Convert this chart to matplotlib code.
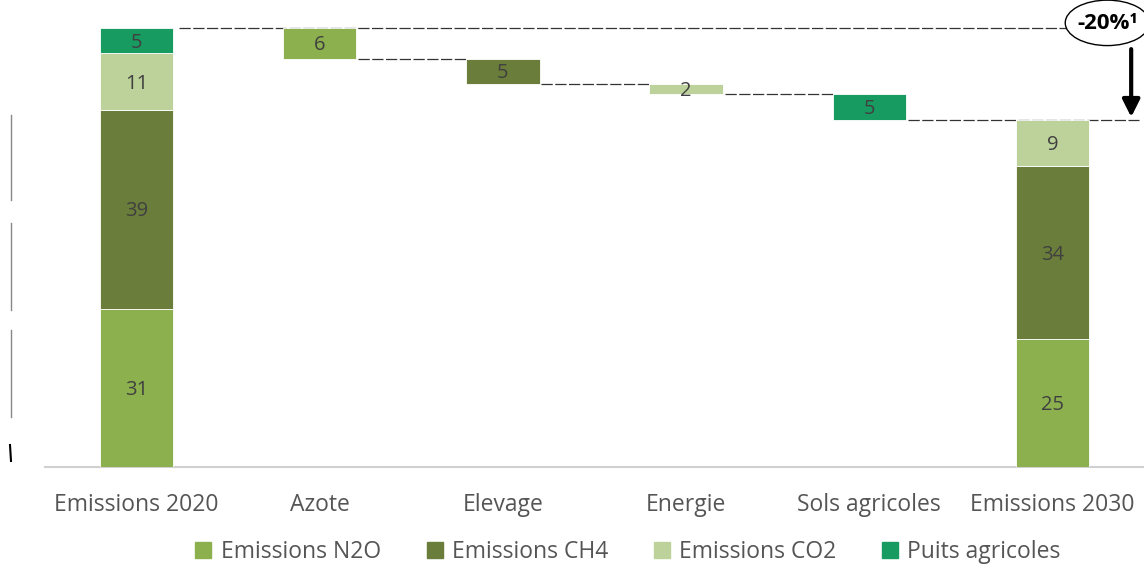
import numpy as np
import matplotlib.pyplot as plt
from matplotlib.patches import Ellipse
from matplotlib.lines import Line2D

plt.rcParams['font.family'] = ['Open Sans', 'DejaVu Sans']

categories = ['Emissions 2020', 'Azote', 'Elevage', 'Energie', 'Sols agricoles', 'Emissions 2030']
series = ['Emissions N2O', 'Emissions CH4', 'Emissions CO2', 'Puits agricoles']
colors = ['#8cb04e', '#6a7d3a', '#bdd29a', '#179b60']

stack_2020 = [31, 39, 11, 5]   # N2O, CH4, CO2, puits
stack_2030 = [25, 34, 9, 0]
reductions = [6, 5, 2, 5]      # Azote, Elevage, Energie, Sols agricoles
reduction_series = [0, 1, 2, 3]
reduction_label = '-20%¹'

W = 0.4
fig = plt.figure(figsize=(11.44, 5.66), dpi=100)
ax = fig.add_axes([45/1144, 99/566, 1099/1144, 467/566])

def stacked(x, vals):
    bottom = 0
    for k, v in enumerate(vals):
        if v == 0:
            continue
        ax.bar(x, v, W, bottom=bottom, color=colors[k], edgecolor='white', lw=0.6, zorder=3)
        ax.text(x, bottom + v/2 - 0.4, str(v), ha='center', va='center', fontsize=14.5, color='#404040', zorder=4)
        bottom += v
    return bottom

top = stacked(0, stack_2020)
level = top
dash = dict(color='#333333', lw=0.9, ls=(0, (9, 2)), zorder=2)
ax.plot([0.23, 5.22], [level, level], **dash)
for i, (r, s) in enumerate(zip(reductions, reduction_series)):
    x = i + 1
    ax.bar(x, r, W, bottom=level - r, color=colors[s], edgecolor='white', lw=0.6, zorder=3)
    ax.text(x, level - r/2 - 0.3, str(r), ha='center', va='center', fontsize=14.5, color='#404040', zorder=4)
    level -= r
    end = x + 0.8 if i < len(reductions) - 1 else 5.47
    ax.plot([x + 0.21, end], [level, level], **dash)
stacked(5, stack_2030)

# annotation
ax.add_patch(Ellipse((5.30, 87.0), 0.46, 8.9, facecolor='white', edgecolor='black', lw=1, zorder=5, clip_on=False))
ax.text(5.30, 86.8, reduction_label, ha='center', va='center', fontsize=16, fontweight='bold', color='black', zorder=6)
ax.annotate('', xy=(5.43, level), xytext=(5.43, 82.4),
            arrowprops=dict(arrowstyle='-|>', color='black', lw=3, mutation_scale=26), zorder=6)

ax.set_xlim(-0.5, 5.5)
ax.set_ylim(0, 467/5.105)
ax.set_xticks(range(len(categories)))
ax.set_xticklabels(categories, fontsize=16.5, color='#555555')
ax.tick_params(axis='x', length=0, pad=19)
ax.set_yticks([])
for sp in ['top', 'right', 'left']:
    ax.spines[sp].set_visible(False)
ax.spines['bottom'].set_color('#d0d0d0')
ax.spines['bottom'].set_linewidth(1.5)

handles = [plt.Rectangle((0, 0), 1, 1, color=c) for c in colors]
fig.legend(handles, series, loc='center', bbox_to_anchor=(628/1144, 1 - 552/566), ncol=4,
           frameon=False, fontsize=16.5, handlelength=0.7, handleheight=0.7,
           handletextpad=0.4, columnspacing=2.0, labelcolor='#555555')

# stray axis fragments at the left edge
for y0, y1 in [(115, 200), (223, 310), (330, 417)]:
    fig.add_artist(Line2D([11/1144, 11/1144], [1 - y0/566, 1 - y1/566], color='#888888', lw=1))
fig.add_artist(Line2D([10/1144, 11/1144], [1 - 445/566, 1 - 461/566], color='black', lw=1.5))

fig.savefig('out.png', dpi=100)
